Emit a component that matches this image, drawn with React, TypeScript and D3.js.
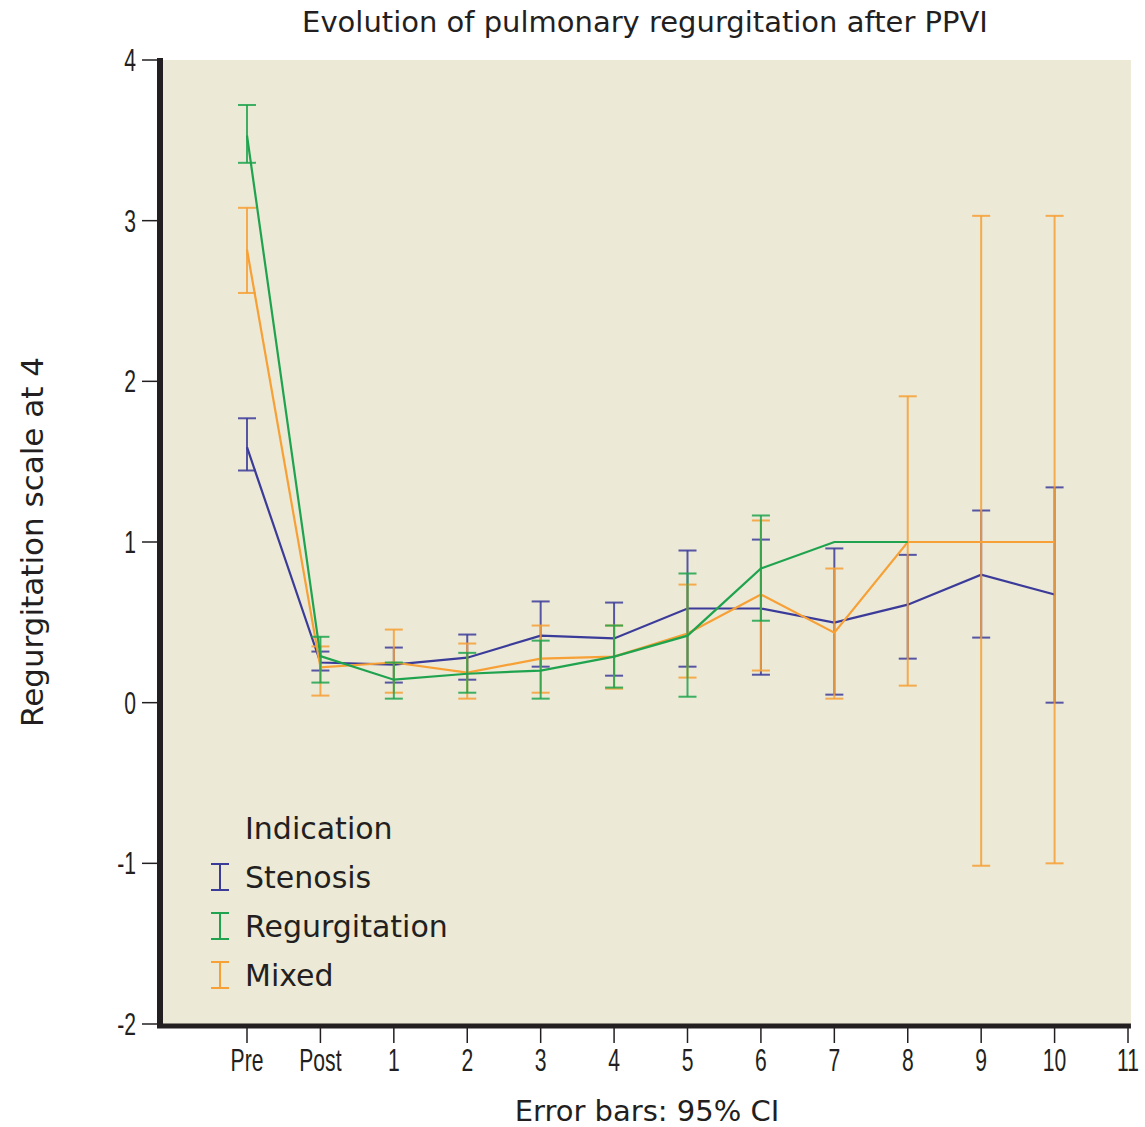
import React from "react";
import * as d3 from "d3";

// Time points (index 0 = Pre, 1 = Post, then follow-up years)
const categories = ["Pre", "Post", "1", "2", "3", "4", "5", "6", "7", "8", "9", "10"];
const xTickLabels = ["Pre", "Post", "1", "2", "3", "4", "5", "6", "7", "8", "9", "10", "11"];
const yTicks = [-2, -1, 0, 1, 2, 3, 4];

// Stenosis: mean and 95% CI
const stenosisMean = [1.59, 0.25, 0.237, 0.28, 0.417, 0.4, 0.586, 0.586, 0.498, 0.61, 0.797, 0.673];
const stenosisLow = [1.445, 0.2, 0.125, 0.143, 0.224, 0.168, 0.224, 0.174, 0.05, 0.274, 0.405, 0.0];
const stenosisHigh = [1.77, 0.318, 0.343, 0.424, 0.63, 0.623, 0.947, 1.015, 0.96, 0.92, 1.196, 1.34];

// Regurgitation: mean and 95% CI (no follow-up beyond year 8)
const regurgitationMean = [3.53, 0.29, 0.143, 0.18, 0.2, 0.287, 0.417, 0.835, 1.0, 1.0];
const regurgitationLow = [3.36, 0.125, 0.025, 0.062, 0.025, 0.094, 0.037, 0.51, 1.0, 1.0];
const regurgitationHigh = [3.72, 0.41, 0.25, 0.31, 0.386, 0.48, 0.804, 1.165, 1.0, 1.0];

// Mixed: mean and 95% CI
const mixedMean = [2.82, 0.22, 0.25, 0.187, 0.274, 0.287, 0.43, 0.673, 0.436, 1.0, 1.0, 1.0];
const mixedLow = [2.55, 0.044, 0.062, 0.025, 0.062, 0.087, 0.156, 0.2, 0.025, 0.106, -1.015, -1.0];
const mixedHigh = [3.08, 0.35, 0.455, 0.368, 0.48, 0.48, 0.735, 1.134, 0.835, 1.907, 3.03, 3.03];

const seriesNames = ["Stenosis", "Regurgitation", "Mixed"];
const seriesColors = ["#3b3b9a", "#1fa34e", "#f7a035"];

const series = [
  { name: seriesNames[0], color: seriesColors[0], mean: stenosisMean, low: stenosisLow, high: stenosisHigh },
  { name: seriesNames[2], color: seriesColors[2], mean: mixedMean, low: mixedLow, high: mixedHigh },
  { name: seriesNames[1], color: seriesColors[1], mean: regurgitationMean, low: regurgitationLow, high: regurgitationHigh },
];

const tickFont = "'Liberation Sans', Arial, sans-serif";
const textFont = "'DejaVu Sans', Verdana, sans-serif";
const ink = "#231f20";

export default function App() {
  const width = 1145;
  const height = 1127;
  const x = d3.scaleLinear().domain([0, 12]).range([247, 1128]);
  const y = d3.scaleLinear().domain([-2, 4]).range([1024, 60]);
  const plotLeft = x(-1.185);
  const plotRight = x(12.04);
  const capHalf = 9;

  const line = d3
    .line<number>()
    .x((_, i) => x(i))
    .y((d) => y(d));

  return (
    <svg width={width} height={height} style={{ display: "block", position: "absolute", left: 0, top: 0 }}>
      <rect x={0} y={0} width={width} height={height} fill="#ffffff" />
      <rect x={plotLeft} y={y(4)} width={plotRight - plotLeft} height={y(-2) - y(4)} fill="#ece9d6" />

      {/* Title */}
      <text x={645} y={32} textAnchor="middle" fontFamily={textFont} fontSize={29} fill={ink}>
        Evolution of pulmonary regurgitation after PPVI
      </text>

      {/* Series: error bars then mean lines */}
      {series.map((s) => (
        <g key={s.name}>
          {s.mean.map((m, i) => {
            if (s.low[i] === s.high[i]) return null;
            const cx = x(i);
            return (
              <g key={i} stroke={s.color} strokeWidth={2} strokeOpacity={0.85}>
                <line x1={cx} x2={cx} y1={y(s.low[i])} y2={y(s.high[i])} />
                <line x1={cx - capHalf} x2={cx + capHalf} y1={y(s.low[i])} y2={y(s.low[i])} />
                <line x1={cx - capHalf} x2={cx + capHalf} y1={y(s.high[i])} y2={y(s.high[i])} />
              </g>
            );
          })}
          <path d={line(s.mean) || ""} fill="none" stroke={s.color} strokeWidth={2.2} strokeLinejoin="miter" />
        </g>
      ))}

      {/* Y axis */}
      <line x1={160} x2={160} y1={y(4) - 2} y2={y(-2) + 4} stroke={ink} strokeWidth={6} />
      {yTicks.map((t) => (
        <g key={t}>
          <line x1={142} x2={158} y1={y(t)} y2={y(t)} stroke={ink} strokeWidth={1.5} />
          <text
            transform={`translate(136, ${y(t) + 11}) scale(0.66, 1)`}
            textAnchor="end"
            fontFamily={tickFont}
            fontSize={32}
            fill={ink}
          >
            {t}
          </text>
        </g>
      ))}

      {/* X axis */}
      <line x1={157} x2={plotRight} y1={1026} y2={1026} stroke={ink} strokeWidth={5} />
      {xTickLabels.map((t, i) => (
        <g key={t}>
          <line x1={x(i)} x2={x(i)} y1={1028} y2={1043} stroke={ink} strokeWidth={1.5} />
          <text
            transform={`translate(${x(i)}, 1071) scale(0.66, 1)`}
            textAnchor="middle"
            fontFamily={tickFont}
            fontSize={32}
            fill={ink}
          >
            {t}
          </text>
        </g>
      ))}

      {/* Axis titles */}
      <text x={647} y={1121} textAnchor="middle" fontFamily={textFont} fontSize={29} fill={ink}>
        Error bars: 95% CI
      </text>
      <text
        transform={`translate(43, 542) rotate(-90)`}
        textAnchor="middle"
        fontFamily={textFont}
        fontSize={31}
        fill={ink}
      >
        Regurgitation scale at 4
      </text>

      {/* Legend */}
      <text x={245} y={839} fontFamily={textFont} fontSize={30} fill={ink}>
        Indication
      </text>
      {seriesNames.map((name, i) => {
        const cy = 877 + i * 49;
        return (
          <g key={name}>
            <g stroke={seriesColors[i]} strokeWidth={2}>
              <line x1={220} x2={220} y1={cy - 13} y2={cy + 13} />
              <line x1={211} x2={229} y1={cy - 13} y2={cy - 13} />
              <line x1={211} x2={229} y1={cy + 13} y2={cy + 13} />
            </g>
            <text x={245} y={cy + 11} fontFamily={textFont} fontSize={30} fill={ink}>
              {name}
            </text>
          </g>
        );
      })}
    </svg>
  );
}
